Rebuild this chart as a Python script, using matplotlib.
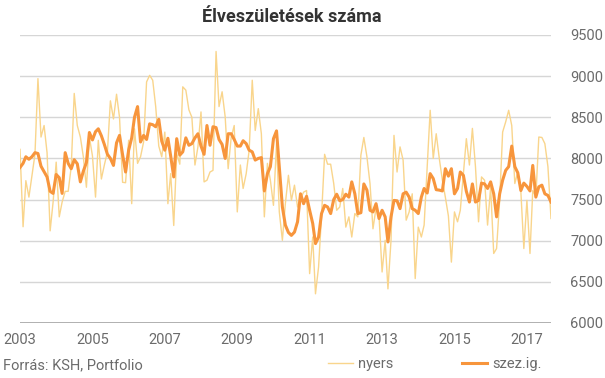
import matplotlib
matplotlib.use('Agg')
import matplotlib.pyplot as plt
import pandas as pd
from matplotlib.lines import Line2D

plt.rcParams['font.family'] = ['Roboto', 'DejaVu Sans']

# Monthly births, Jan 2003 onwards
nyers = [8110, 7170, 7730, 7530, 7790, 8050, 8970, 8260, 8400, 8070, 7120, 7470,
         7955, 7290, 7470, 7600, 7600, 7900, 8790, 8400, 8260, 8020, 7650, 8260,
         8030, 7530, 8220, 7750, 7920, 8080, 8700, 8480, 8780, 8500, 7710, 7705,
         8220, 7450, 8360, 7940, 8020, 8200, 8930, 9010, 8950, 8630, 8150, 8020,
         8320, 7450, 7815, 7185, 8060, 7930, 8870, 8830, 8590, 8500, 7920, 8140,
         8565, 7715, 7735, 7835, 7855, 9300, 8630, 8810, 8505, 7875, 8260, 8400,
         7350, 7920, 7635, 7815, 8100, 8950, 8340, 8605, 8300, 7290, 7940, 7735,
         7430, 8180, 7350, 7005, 7450, 7795, 7490, 7675, 7410, 7510, 7590, 7610,
         6600, 7045, 6355, 6680, 7300, 8050, 7930, 7930, 7695, 7370, 7410, 7635,
         7165, 7290, 7045, 7330, 7290, 8040, 8255, 8020, 7695, 7145, 7400, 7300,
         6620, 7005, 6415, 7005, 8280, 7835, 8140, 7980, 7250, 7350, 7570, 6540,
         7165, 7045, 7190, 7900, 8585, 8000, 8300, 8000, 7735, 7530, 7300, 6740,
         7350, 7230, 7370, 7815, 8240, 7920, 8365, 7900, 7230, 7775, 7735, 7190,
         7650, 6845, 6905, 7490, 8320, 8445, 8585, 8400, 7695, 7835, 7595, 6905,
         7490, 6845, 7610, 7530, 8260, 8255, 8180, 7900, 7270]

szez_ig = [7890, 7940, 8020, 7990, 8020, 8070, 8060, 7905, 7840, 7775, 7600, 7575,
           7805, 7765, 7575, 8070, 7940, 7875, 7985, 7935, 7715, 7845, 7950, 8315,
           8225, 8325, 8360, 8275, 8170, 8050, 8000, 7915, 8190, 8280, 8045, 7835,
           8100, 8250, 8500, 8630, 8200, 8280, 8230, 8420, 8410, 8385, 8475, 8210,
           8100, 8245, 8030, 7775, 8240, 8040, 8080, 8250, 8160, 8180, 8250, 8300,
           8150, 8050, 8400, 8160, 8385, 8375, 8230, 8170, 8000, 8300, 8300, 8230,
           8150, 8150, 8215, 8180, 8100, 8080, 7980, 8000, 8010, 7605, 7815, 7900,
           8240, 8335, 7900, 7410, 7190, 7100, 7065, 7105, 7230, 7570, 7450, 7540,
           7370, 7210, 6965, 7045, 7330, 7430, 7410, 7330, 7500, 7565, 7485, 7500,
           7565, 7530, 7715, 7570, 7330, 7340, 7690, 7615, 7370, 7350, 7450, 7270,
           7370, 7290, 6985, 7290, 7490, 7485, 7390, 7570, 7590, 7530, 7390, 7370,
           7330, 7530, 7635, 7580, 7815, 7755, 7620, 7615, 7605, 7875, 7785, 7875,
           7570, 7635, 7835, 7795, 7600, 7470, 7690, 7470, 7490, 7700, 7690, 7635,
           7715, 7570, 7290, 7570, 7735, 7855, 7900, 8150, 7900, 7825, 7610, 7700,
           7660, 7605, 7915, 7530, 7655, 7675, 7570, 7550, 7470]

tick_years = [2003, 2005, 2007, 2009, 2011, 2013, 2015, 2017]
y_ticks = [6000, 6500, 7000, 7500, 8000, 8500, 9000, 9500]

dates = pd.date_range('2003-01-01', periods=len(nyers), freq='MS')

W, H = 605, 378
fig = plt.figure(figsize=(W / 100, H / 100), dpi=100)
ax = fig.add_axes([20 / W, 1 - 323 / H, 531 / W, 288 / H])

raw_color = '#F9D58C'
sa_color = '#F7953C'
label_color = '#6b6b6b'

ax.plot(dates, nyers, color=raw_color, lw=1.0, zorder=3)
ax.plot(dates, szez_ig, color=sa_color, lw=2.2, zorder=4, solid_joinstyle='round')

ax.set_xlim(dates[0], dates[-1])
ax.set_ylim(6000, 9500)
ax.set_yticks(y_ticks)
ax.set_yticklabels([str(v) for v in y_ticks])
ax.yaxis.tick_right()
ax.tick_params(axis='y', length=0, pad=14, labelsize=10.5, labelcolor=label_color)

ax.set_xticks(pd.to_datetime([f'{y}-01-01' for y in tick_years]))
ax.set_xticklabels([str(y) for y in tick_years])
ax.tick_params(axis='x', length=0, pad=7, labelsize=10.5, labelcolor=label_color)

ax.grid(axis='y', color='#d6d6d6', lw=1.0, zorder=0)
ax.grid(axis='x', visible=False)
for s in ax.spines.values():
    s.set_visible(False)
ax.axhline(6000, color='#9a9a9a', lw=1.2, zorder=1)

fig.text(292 / W, 1 - 17 / H, 'Élveszületések száma', ha='center', va='center',
         fontsize=13, fontweight='bold', color='#333333')
fig.text(3 / W, 1 - 365 / H, 'Forrás: KSH, Portfolio', ha='left', va='center',
         fontsize=10.5, color=label_color)

fig.legend(handles=[Line2D([], [], color=raw_color, lw=1.0)], labels=['nyers'],
           loc='center left', bbox_to_anchor=(328 / W, 1 - 364 / H), frameon=False,
           handlelength=1.7, handletextpad=0.35, fontsize=10.5, labelcolor=label_color,
           borderpad=0, borderaxespad=0)
fig.legend(handles=[Line2D([], [], color=sa_color, lw=2.2)], labels=['szez.ig.'],
           loc='center left', bbox_to_anchor=(462 / W, 1 - 364 / H), frameon=False,
           handlelength=1.7, handletextpad=0.35, fontsize=10.5, labelcolor=label_color,
           borderpad=0, borderaxespad=0)

fig.savefig('out.png', dpi=100)
